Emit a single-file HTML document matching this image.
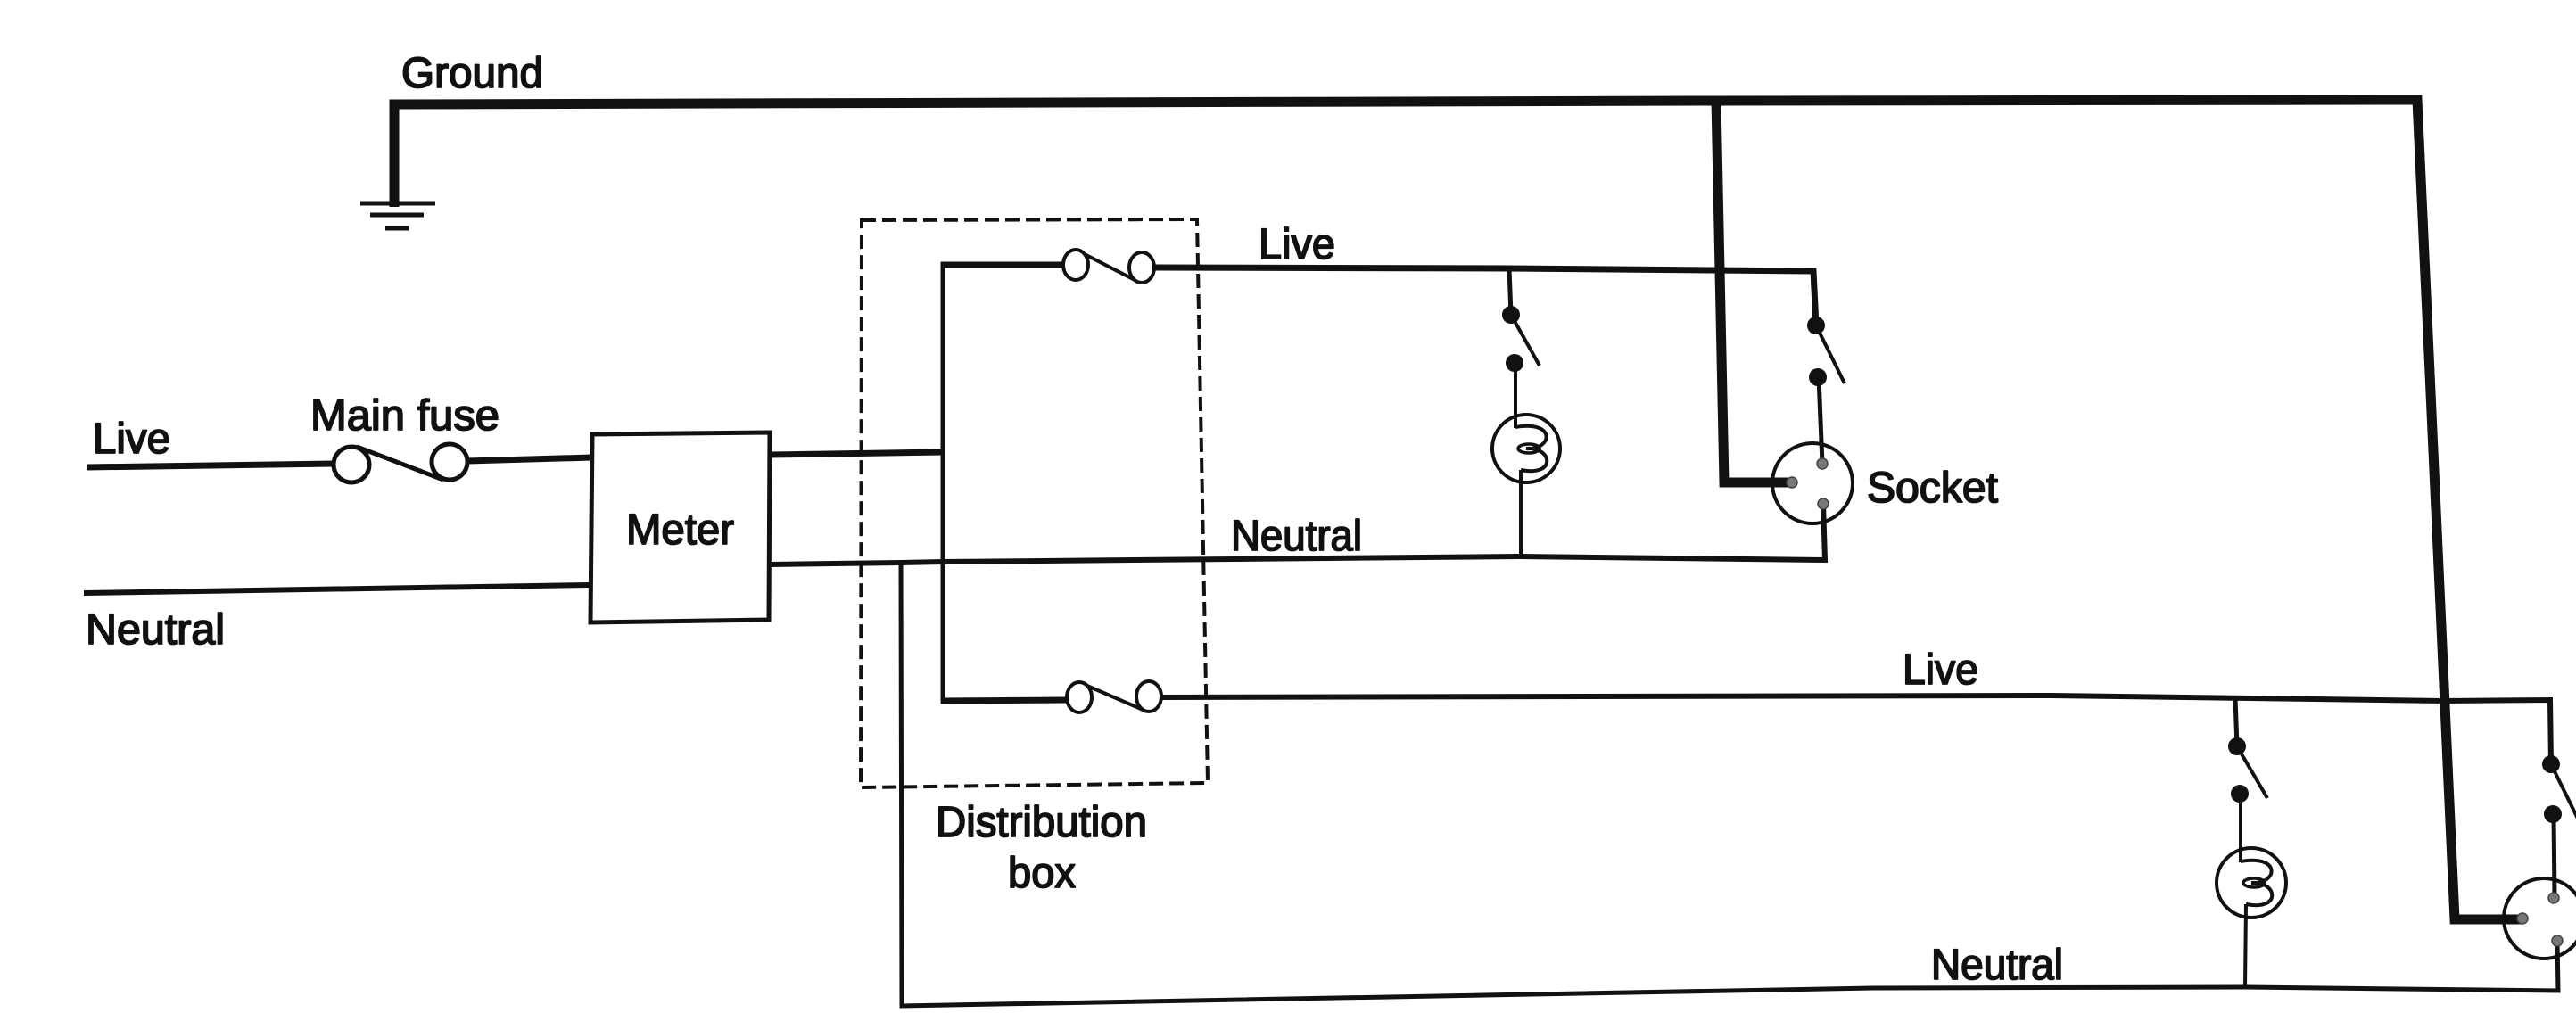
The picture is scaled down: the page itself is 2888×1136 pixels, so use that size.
<!DOCTYPE html>
<html>
<head>
<meta charset="utf-8">
<style>
  html, body { margin: 0; padding: 0; background: #ffffff; }
  body { width: 2888px; height: 1136px; overflow: hidden; }
  svg { display: block; }
  text { font-family: "Liberation Sans", Arial, sans-serif; font-size: 48px; fill: #111; stroke: #111; stroke-width: 1.8px; stroke-linejoin: round; }
</style>
</head>
<body>
<svg width="2888" height="1136" viewBox="0 0 2888 1136" xmlns="http://www.w3.org/2000/svg">
  <rect x="0" y="0" width="2888" height="1136" fill="#ffffff"/>

  <g fill="none" stroke="#111" stroke-linejoin="miter" stroke-linecap="butt">
    <!-- Ground wires (thick) -->
    <polyline points="442,232 442,117 1924,113 2710,112 2752,1031 2830,1031" stroke-width="11"/>
    <polyline points="1924,113 1933,541 2008,541" stroke-width="11"/>
    <!-- Ground symbol -->
    <line x1="404" y1="228" x2="488" y2="228" stroke-width="5"/>
    <line x1="415" y1="241" x2="475" y2="241" stroke-width="5"/>
    <line x1="432" y1="256" x2="458" y2="256" stroke-width="5"/>

    <!-- Incoming live with main fuse -->
    <line x1="97" y1="524" x2="374" y2="520" stroke-width="7"/>
    <line x1="524" y1="517" x2="664" y2="513" stroke-width="7"/>
    <line x1="400" y1="501" x2="497" y2="538" stroke-width="5"/>
    <circle cx="394" cy="521" r="20" stroke-width="5" fill="#fff"/>
    <circle cx="504" cy="518" r="20" stroke-width="5" fill="#fff"/>

    <!-- Incoming neutral -->
    <line x1="94" y1="665" x2="662" y2="656" stroke-width="6"/>

    <!-- Meter box -->
    <polygon points="664,487 863,485 862,695 662,698" stroke-width="5" fill="#fff"/>

    <!-- Meter live out to bus -->
    <line x1="862" y1="510" x2="1057" y2="507" stroke-width="7"/>
    <!-- Bus -->
    <line x1="1057" y1="294" x2="1057" y2="789" stroke-width="5"/>

    <!-- Upper distribution fuse -->
    <line x1="1055" y1="297" x2="1192" y2="297" stroke-width="7"/>
    <line x1="1208" y1="281" x2="1278" y2="317" stroke-width="4"/>
    <ellipse cx="1206" cy="297" rx="14" ry="17" stroke-width="4" fill="#fff"/>
    <ellipse cx="1280" cy="300" rx="14" ry="17" stroke-width="4" fill="#fff"/>
    <!-- Upper live -->
    <polyline points="1294,300 1692,301 2033,304 2036,365" stroke-width="7"/>

    <!-- Lower distribution fuse -->
    <line x1="1055" y1="786" x2="1196" y2="785" stroke-width="7"/>
    <line x1="1212" y1="766" x2="1286" y2="798" stroke-width="4"/>
    <ellipse cx="1210" cy="782" rx="14" ry="17" stroke-width="4" fill="#fff"/>
    <ellipse cx="1288" cy="781" rx="14" ry="17" stroke-width="4" fill="#fff"/>
    <!-- Lower live -->
    <polyline points="1302,782 2300,780 2740,786 2859,785 2860,857" stroke-width="6"/>

    <!-- Upper neutral -->
    <polyline points="862,633 1010,631 1057,630 1703,624 2046,628 2044,565" stroke-width="6"/>
    <!-- Lower neutral -->
    <polyline points="1010,631 1011,1128 2100,1108 2517,1107 2868,1111 2867,1055" stroke-width="5"/>

    <!-- Dashed distribution box -->
    <polygon points="966,247 1342,246 1354,878 965,883" stroke-width="4" stroke-dasharray="16 7"/>

    <!-- Lamp 1 branch -->
    <line x1="1692" y1="301" x2="1694" y2="353" stroke-width="5"/>
    <line x1="1694" y1="353" x2="1726" y2="410" stroke-width="4"/>
    <line x1="1699" y1="407" x2="1699" y2="480" stroke-width="4"/>
    <circle cx="1711" cy="503" r="38" stroke-width="4"/>
    <path d="M1699,479 C1745,471 1741,505 1711,503 M1711,503 C1741,501 1745,535 1705,527" stroke-width="4"/>
    <ellipse cx="1714" cy="503" rx="12" ry="5" stroke-width="3.5"/>
    <line x1="1705" y1="527" x2="1705" y2="624" stroke-width="4"/>

    <!-- Socket 1 branch -->
    <line x1="2036" y1="365" x2="2068" y2="430" stroke-width="4"/>
    <line x1="2039" y1="423" x2="2043" y2="520" stroke-width="5"/>
    <circle cx="2032" cy="542" r="45" stroke-width="4"/>

    <!-- Lamp 2 branch -->
    <line x1="2506" y1="783" x2="2508" y2="837" stroke-width="5"/>
    <line x1="2508" y1="837" x2="2542" y2="895" stroke-width="4"/>
    <line x1="2512" y1="890" x2="2512" y2="967" stroke-width="4"/>
    <circle cx="2524" cy="990" r="39" stroke-width="4"/>
    <path d="M2512,966 C2558,958 2554,992 2524,990 M2524,990 C2554,988 2558,1022 2518,1014" stroke-width="4"/>
    <ellipse cx="2527" cy="990" rx="12" ry="5" stroke-width="3.5"/>
    <line x1="2518" y1="1014" x2="2517" y2="1107" stroke-width="4"/>

    <!-- Socket 2 branch -->
    <line x1="2860" y1="857" x2="2892" y2="922" stroke-width="4"/>
    <line x1="2863" y1="913" x2="2864" y2="1007" stroke-width="5"/>
    <circle cx="2852" cy="1030" r="45" stroke-width="4"/>
  </g>

  <!-- Switch contact dots -->
  <g fill="#111">
    <circle cx="1694" cy="353" r="10"/>
    <circle cx="1698" cy="407" r="10"/>
    <circle cx="2036" cy="365" r="10"/>
    <circle cx="2038" cy="423" r="10"/>
    <circle cx="2508" cy="837" r="10"/>
    <circle cx="2511" cy="890" r="10"/>
    <circle cx="2860" cy="857" r="10"/>
    <circle cx="2862" cy="913" r="10"/>
  </g>

  <!-- Socket pins -->
  <g fill="#777" stroke="#444" stroke-width="1.5">
    <circle cx="2043" cy="520" r="6"/>
    <circle cx="2009" cy="541" r="6"/>
    <circle cx="2044" cy="565" r="6"/>
    <circle cx="2863" cy="1007" r="6"/>
    <circle cx="2828" cy="1030" r="6"/>
    <circle cx="2867" cy="1055" r="6"/>
  </g>

  <!-- Labels -->
  <text x="450" y="98" textLength="159" lengthAdjust="spacingAndGlyphs">Ground</text>
  <text x="104" y="508" textLength="87" lengthAdjust="spacingAndGlyphs">Live</text>
  <text x="348" y="482" textLength="212" lengthAdjust="spacingAndGlyphs">Main fuse</text>
  <text x="702" y="610" textLength="121" lengthAdjust="spacingAndGlyphs">Meter</text>
  <text x="96" y="722" textLength="156" lengthAdjust="spacingAndGlyphs">Neutral</text>
  <text x="1411" y="290" textLength="86" lengthAdjust="spacingAndGlyphs">Live</text>
  <text x="1380" y="617" textLength="147" lengthAdjust="spacingAndGlyphs">Neutral</text>
  <text x="2093" y="563" textLength="147" lengthAdjust="spacingAndGlyphs">Socket</text>
  <text x="1049" y="938" textLength="237" lengthAdjust="spacingAndGlyphs">Distribution</text>
  <text x="1130" y="995" textLength="76" lengthAdjust="spacingAndGlyphs">box</text>
  <text x="2133" y="767" textLength="85" lengthAdjust="spacingAndGlyphs">Live</text>
  <text x="2165" y="1098" textLength="148" lengthAdjust="spacingAndGlyphs">Neutral</text>
</svg>
</body>
</html>
